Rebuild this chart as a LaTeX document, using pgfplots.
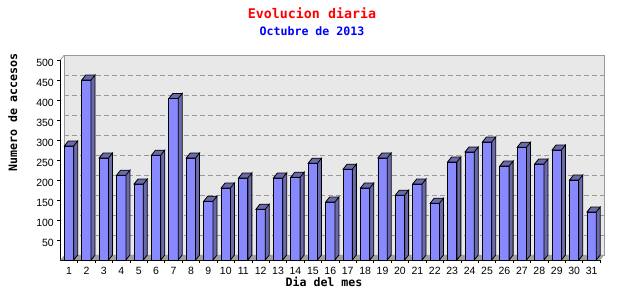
\documentclass[border=0pt]{standalone}
\usepackage{pgfplots}
\pgfplotsset{compat=1.18}
\usepackage{pgfplotstable}
\usepackage{fontspec}
\setmainfont{Liberation Sans}
\newfontfamily\mono{DejaVu Sans Mono}
\definecolor{frontc}{HTML}{8888FF}
\definecolor{sidec}{HTML}{6A6AAA}
\definecolor{wallc}{HTML}{E8E8E8}
\definecolor{floorc}{HTML}{A0A0A0}
\definecolor{gridc}{HTML}{999999}
\pgfplotstableread{
day v
1 285
2 450
3 255
4 212
5 190
6 262
7 404
8 255
9 147
10 180
11 205
12 127
13 205
14 207
15 242
16 145
17 227
18 180
19 255
20 162
21 190
22 142
23 245
24 270
25 295
26 235
27 282
28 240
29 275
30 200
31 120
}\datatable
\pgfdeclareplotmark{cap3d}{%
  \pgfmathsetlengthmacro{\hh}{\hv*0.4bp}%
  \pgfpathmoveto{\pgfpoint{-4.65bp}{0pt}}%
  \pgfpathlineto{\pgfpoint{4.65bp}{0pt}}%
  \pgfpathlineto{\pgfpoint{8.65bp}{5bp}}%
  \pgfpathlineto{\pgfpoint{-0.65bp}{5bp}}%
  \pgfpathclose
  \pgfpathmoveto{\pgfpoint{4.65bp}{0pt}}%
  \pgfpathlineto{\pgfpoint{8.65bp}{5bp}}%
  \pgfpathlineto{\pgfpoint{8.65bp}{5bp-\hh}}%
  \pgfpathlineto{\pgfpoint{4.65bp}{-\hh}}%
  \pgfpathclose
  \pgfusepathqfillstroke
}
\begin{document}
\begin{tikzpicture}
\useasboundingbox (0,0) rectangle (640bp,300bp);
\begin{axis}[
  at={(64.3bp,45bp)}, anchor=south west,
  scale only axis, width=540bp, height=200bp,
  xmin=0.5, xmax=31.5, ymin=0, ymax=500,
  enlargelimits=false, clip=false,
  axis x line*=bottom, axis y line*=left,
  axis line style={black, line width=0.8bp, -},
  tick align=outside, major tick length=3bp,
  tick style={black, line width=0.8bp},
  ytick={50,100,...,500},
  xtick={1.5,2.5,...,31.5},
  xticklabels={1,2,3,4,5,6,7,8,9,10,11,12,13,14,15,16,17,18,19,20,21,22,23,24,25,26,27,28,29,30,31},
  xticklabel style={xshift=-8.71bp, yshift=-1bp},
  yticklabel style={yshift=-2.5bp},
  tick label style={font=\fontsize{10.5bp}{12bp}\selectfont},
  /pgf/number format/assume math mode=true,
  ymajorgrids,
  grid style={gridc, line width=0.8bp, dash pattern=on 5bp off 3bp, xshift=4bp, yshift=5bp},
  axis background/.style={fill=wallc, draw=gridc, line width=0.8bp, shift={(4bp,5bp)}},
]
\fill[floorc] (rel axis cs:0,0) -- (rel axis cs:1,0) -- ([shift={(4bp,5bp)}]rel axis cs:1,0) -- ([shift={(4bp,5bp)}]rel axis cs:0,0) -- cycle;
\draw[gridc, line width=0.8bp] (rel axis cs:0,1) -- ([shift={(4bp,5bp)}]rel axis cs:0,1);
\addplot[only marks, mark=cap3d, mark options={fill=sidec, draw=black, line width=0.8bp, solid},
  visualization depends on={y \as \hv}] table[x=day, y=v] {\datatable};
\addplot[ybar, bar width=9.3bp, fill=frontc, draw=black, line width=0.8bp] table[x=day, y=v] {\datatable};
\end{axis}
\node[text=red, font=\mono\bfseries\fontsize{13.3bp}{15bp}\selectfont] at (312bp,287bp) {Evolucion diaria};
\node[text=blue, font=\mono\bfseries\fontsize{11.6bp}{13bp}\selectfont] at (312bp,269bp) {Octubre de 2013};
\node[rotate=90, font=\mono\bfseries\fontsize{11.6bp}{13bp}\selectfont] at (12.7bp,187.5bp) {Numero de accesos};
\node[font=\mono\bfseries\fontsize{11.6bp}{13bp}\selectfont] at (324bp,18bp) {Dia del mes};
\end{tikzpicture}
\end{document}
